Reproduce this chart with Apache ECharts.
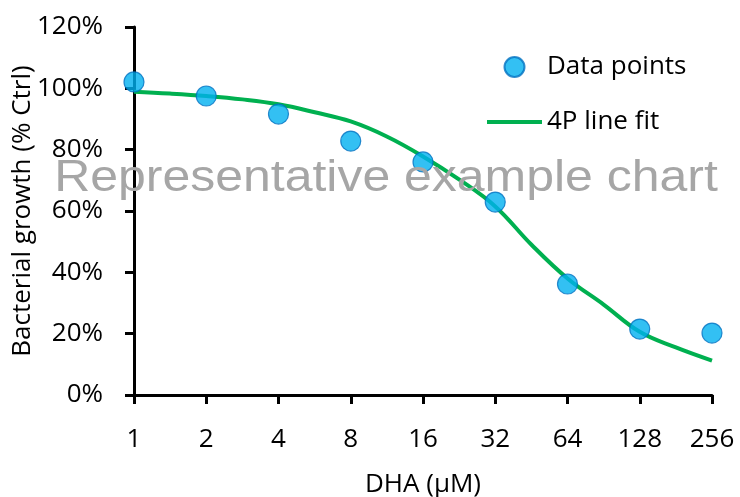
<!DOCTYPE html>
<html>
<head>
<meta charset="utf-8">
<script src="https://cdn.jsdelivr.net/npm/echarts@6/dist/echarts.min.js"></script>
<style>html,body{margin:0;padding:0;background:#fff;}#c{width:740px;height:497px;}</style>
</head>
<body>
<div id="c"></div>
<script>
// Data
var conc = [1, 2, 4, 8, 16, 32, 64, 128, 256];
var growth = [102.1, 97.5, 91.6, 82.8, 76.0, 62.9, 36.2, 21.5, 20.2];
var fitConc = [1, 1.41, 2, 2.83, 4, 5.66, 8, 11.3, 16, 22.6, 32, 45.3, 64, 90.5, 128, 181, 256];
var fitGrowth = [98.9, 98.3, 97.5, 96.4, 94.8, 92.2, 89.2, 84.3, 77.8, 70.3, 61.5, 49.0, 38.0, 29.5, 20.6, 15.5, 11.2];
var seriesNames = ['Data points', '4P line fit'];
var xTitle = 'DHA (\u00b5M)';
var yTitle = 'Bacterial growth (% Ctrl)';
var watermark = 'Representative example chart';

var pts = conc.map(function (c, i) { return [c, growth[i]]; });
var fit = fitConc.map(function (c, i) { return [c, fitGrowth[i]]; });

var FONT = '"Open Sans", sans-serif';
var chart = echarts.init(document.getElementById('c'), null, {renderer: 'canvas'});
chart.setOption({
  animation: false,
  backgroundColor: '#fff',
  grid: {left: 134, right: 28, top: 27, bottom: 102, containLabel: false, outerBoundsMode: 'none'},
  legend: {
    orient: 'vertical', left: 487, top: 54, padding: 0, itemWidth: 55, itemHeight: 20, itemGap: 29,
    data: [{name: seriesNames[0], icon: 'circle'}, {name: seriesNames[1], icon: 'path://M0,0 L55,0 L55,4 L0,4 Z'}],
    textStyle: {fontFamily: FONT, fontSize: 26, lineHeight: 26, color: '#000', padding: [0, 0, 0, 0]}
  },
  xAxis: {
    type: 'log', logBase: 2, min: 1, max: 256, splitNumber: 8,
    name: xTitle, nameLocation: 'middle', nameGap: 77, nameMoveOverlap: false,
    nameTextStyle: {fontFamily: FONT, fontSize: 26, color: '#000'},
    axisLine: {show: true, lineStyle: {color: '#000', width: 3}},
    axisTick: {show: true, inside: false, length: 9, lineStyle: {color: '#000', width: 3}},
    axisLabel: {fontFamily: FONT, fontSize: 26, color: '#000', margin: 32},
    splitLine: {show: false}, minorTick: {show: false}
  },
  yAxis: {
    type: 'value', min: 0, max: 120, interval: 20,
    name: yTitle, nameLocation: 'middle', nameGap: 98, nameRotate: 90, nameMoveOverlap: false,
    nameTextStyle: {fontFamily: FONT, fontSize: 26, color: '#000'},
    axisLine: {show: true, lineStyle: {color: '#000', width: 3}},
    axisTick: {show: true, inside: false, length: 9, lineStyle: {color: '#000', width: 3}},
    axisLabel: {fontFamily: FONT, fontSize: 26, color: '#000', margin: 31, formatter: '{value}%'},
    splitLine: {show: false}
  },
  series: [
    {
      name: seriesNames[0], type: 'scatter', data: pts, symbol: 'circle', symbolSize: 20, z: 3,
      itemStyle: {color: '#00B0F0', borderColor: '#0070C0', borderWidth: 1.2}
    },
    {
      name: seriesNames[1], type: 'line', data: fit, smooth: 0.4, symbol: 'none', showSymbol: false, z: 2,
      lineStyle: {color: '#00B050', width: 4}, itemStyle: {color: '#00B050'}
    }
  ],
  graphic: [{
    type: 'text', z: 100,
    x: 386, y: 179,
    style: {text: watermark, fill: '#a6a6a6', font: '45px "Liberation Sans", Arial, sans-serif', align: 'center', verticalAlign: 'middle'},
    scaleX: 1.11, originX: 0
  }]
});
</script>
</body>
</html>
